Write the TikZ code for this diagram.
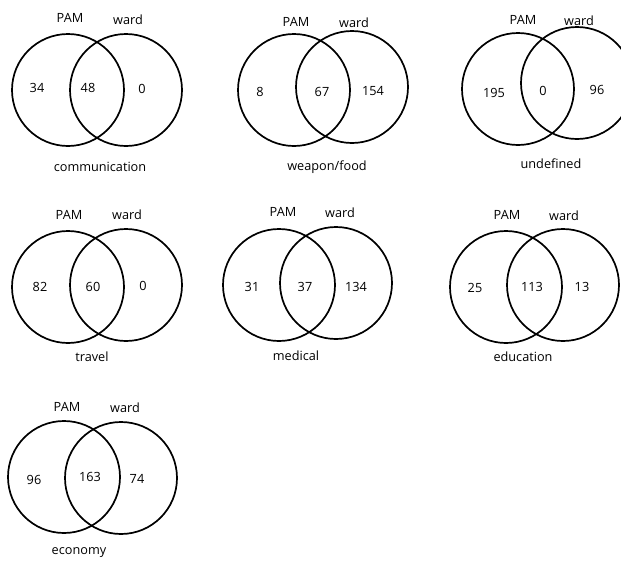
\documentclass[tikz,border=0pt]{standalone}
\usepackage{fontspec}
\setmainfont{Open Sans}
\begin{document}
\begin{tikzpicture}[x=1pt,y=-1pt,
  setcircle/.style={draw=black,line width=1.7pt,circle,minimum size=112pt,inner sep=0pt},
  lbl/.style={font=\fontsize{12.7}{14}\selectfont,inner sep=0pt,text=black}]
\useasboundingbox (0,0) rectangle (621,563);
\clip (0,0) rectangle (621,563);
\fill[white] (0,0) rectangle (621,563);
\newcommand\myvenn[8]{%
  % #1 id, #2 left centre, #3 right centre, #4 PAM pos, #5 ward pos, #6 {pos/num} left, #7 mid, #8 right
  \node[setcircle] (#1L) at (#2) {};
  \node[setcircle] (#1R) at (#3) {};
  \node[lbl] (#1pam) at (#4) {PAM};
  \node[lbl] (#1ward) at (#5) {ward};
  \foreach \p/\t [count=\i] in {#6,#7,#8} {\node[lbl] (#1n\i) at (\p) {\t};}
}
\newcommand\mycap[3]{\node[lbl] (#1cap) at (#2) {#3};}
\myvenn{a}{68,90}{126,90}{70,18}{128,20}{{37,88}/34}{{88,88}/48}{{142,89}/0}
\mycap{a}{100,167}{communication}
\myvenn{b}{294,90}{352,87}{296,22}{354,23}{{260,92}/8}{{322,92}/67}{{373,91}/154}
\mycap{b}{327,167}{weapon/food}
\myvenn{c}{518,89}{577,83}{523,20}{579,21}{{494,93}/195}{{543,91}/0}{{597,90}/96}
\mycap{c}{551,164}{undefined}
\myvenn{d}{68,287}{126,285}{69,215}{127,215}{{40,287}/82}{{93,287}/60}{{143,286}/0}
\mycap{d}{92,357}{travel}
\myvenn{e}{279,285}{336,283}{283,212}{340,213}{{252,287}/31}{{305,287}/37}{{356,287}/134}
\mycap{e}{296,356}{medical}
\myvenn{f}{506,287}{563,285}{507,215}{564,216}{{475,288}/25}{{532,287}/113}{{582,287}/13}
\mycap{f}{523,357}{education}
\myvenn{g}{64,477}{121,478}{67,407}{125,408}{{34,480}/96}{{90,477}/163}{{137,479}/74}
\mycap{g}{79,553}{economy}
\end{tikzpicture}
\end{document}
